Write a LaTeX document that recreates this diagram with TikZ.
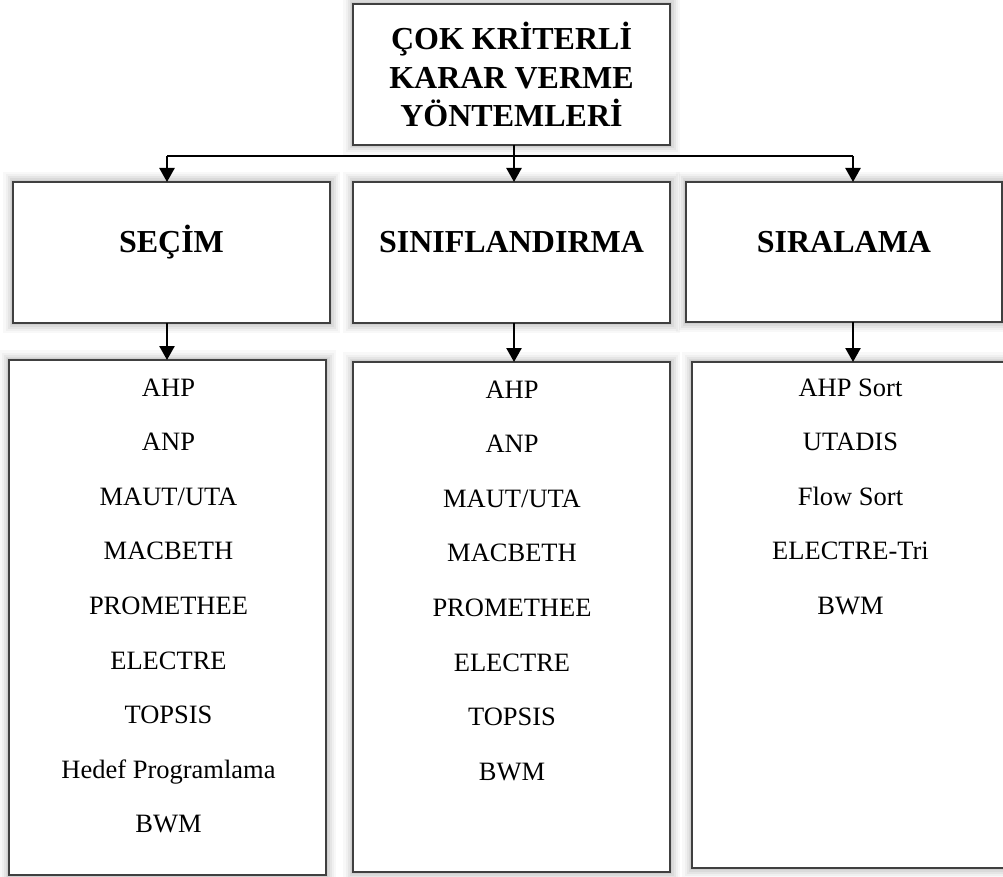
\documentclass[tikz,border=0pt]{standalone}
\usepackage{fontspec}
\setmainfont{Liberation Serif}
\usetikzlibrary{arrows.meta}
\tikzset{
        glow/.style={preaction={draw=black!45, draw opacity=0.06, line width=20pt},
                     preaction={draw=black!45, draw opacity=0.08, line width=15pt},
                     preaction={draw=black!45, draw opacity=0.10, line width=11pt},
                     preaction={draw=black!45, draw opacity=0.12, line width=7pt},
                     preaction={draw=black!45, draw opacity=0.15, line width=4pt}},
        box/.style={glow, draw=black!75, line width=2.5pt, fill=white, inner sep=0pt, outer sep=0pt},
        head/.style={box, font=\bfseries\fontsize{32}{38.5}\selectfont, align=center},
        hdr/.style={head, text height=22pt, text depth=22pt},
        item/.style={font=\fontsize{26.5}{30}\selectfont, anchor=base, inner sep=0pt},
        arr/.style={-{Triangle[length=14pt,width=15pt]}, line width=2.5pt}
    }

\begin{document}
\begin{tikzpicture}[x=1pt, y=-1pt]
            \useasboundingbox (0,0) rectangle (1003,877);

            \node [head, minimum width=317pt, minimum height=141pt] (top) at (511.5, 74.5)
                {ÇOK KRİTERLİ\\KARAR VERME\\YÖNTEMLERİ};

            \node [hdr, minimum width=317pt, minimum height=141pt] (secim) at (171.5, 252.5) {SEÇİM};
            \node [hdr, minimum width=317pt, minimum height=141pt] (sinif) at (511.5, 252.5) {SINIFLANDIRMA};
            \node [hdr, minimum width=316pt, minimum height=140pt] (sira) at (844, 252) {SIRALAMA};

            \node [box, minimum width=317pt, minimum height=515pt] (list1) at (167.5, 617.5) {};
            \node [box, minimum width=317pt, minimum height=510pt] (list2) at (511.5, 617) {};
            \node [box, minimum width=314pt, minimum height=506pt] (list3) at (849, 615) {};

            \coordinate (jL) at (167, 156);
            \coordinate (jM) at (514, 156);
            \coordinate (jR) at (853, 156);

            \draw [line width=2.5pt] (jL) -- (jR);
            \draw [line width=2.5pt] (jM |- top.south) -- (jM);
            \draw [arr] (jL) -- (jL |- secim.north);
            \draw [arr] (jM) -- (jM |- sinif.north);
            \draw [arr] (jR) -- (jR |- sira.north);

            \draw [arr] (jL |- secim.south) -- (jL |- list1.north);
            \draw [arr] (jM |- sinif.south) -- (jM |- list2.north);
            \draw [arr] (jR |- sira.south) -- (jR |- list3.north);

            \foreach \t [count=\i] in {AHP, ANP, MAUT/UTA, MACBETH, PROMETHEE, ELECTRE, TOPSIS, Hedef Programlama, BWM}
                \node [item] (sec\i) at (168.5, {396+54.6*(\i-1)}) {\t};
            \foreach \t [count=\i] in {AHP, ANP, MAUT/UTA, MACBETH, PROMETHEE, ELECTRE, TOPSIS, BWM}
                \node [item] (sin\i) at (512, {398+54.6*(\i-1)}) {\t};
            \foreach \t [count=\i] in {AHP Sort, UTADIS, Flow Sort, ELECTRE-Tri, BWM}
                \node [item] (sir\i) at (850.5, {396+54.6*(\i-1)}) {\t};
        \end{tikzpicture}
\end{document}
